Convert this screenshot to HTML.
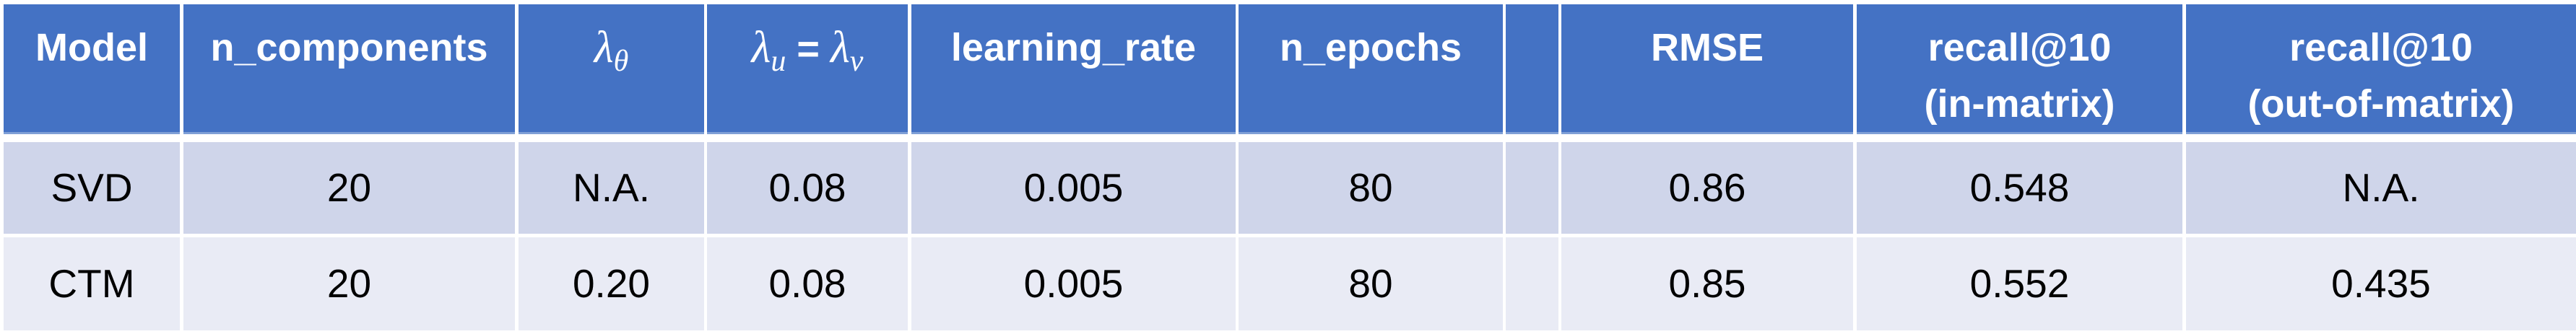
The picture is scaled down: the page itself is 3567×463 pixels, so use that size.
<!DOCTYPE html>
<html><head><meta charset="utf-8">
<style>
html,body{margin:0;padding:0;background:#fff;}
body{width:3567px;height:463px;position:relative;overflow:hidden;font-family:"Liberation Sans",sans-serif;}
.c{position:absolute;box-sizing:border-box;text-align:center;}
.h{background:#4472C4;color:#fff;font-weight:bold;font-size:54px;line-height:78px;padding-top:21px;border-bottom:3px solid #7F9FD6;}
.r1{background:#CFD5EA;color:#000;font-size:55px;}
.r2{background:#E9EBF5;color:#000;font-size:55px;}
.m{font-family:"Liberation Serif",serif;font-style:italic;font-weight:normal;font-size:62px;}
.m sub{font-size:42px;vertical-align:-12px;}
</style></head><body>
<div id="t"></div>
<script>
const lefts=[5,254,718,979,1262,1715,2085,2162,2571,3027];
const rights=[249,713,975,1257,1711,2081,2158,2566,3022,3567];
const headers=["Model","n_components","<span class='m'>λ<sub>θ</sub></span>","<span class='m'>λ<sub>u</sub></span> = <span class='m'>λ<sub>v</sub></span>","learning_rate","n_epochs","","RMSE","recall@10<br>(in-matrix)","recall@10<br>(out-of-matrix)"];
const headerNames=["model","n-components","lambda-theta","lambda-u-v","learning-rate","n-epochs","spacer","rmse","recall-in-matrix","recall-out-of-matrix"];
const svdRow=["SVD","20","N.A.","0.08","0.005","80","","0.86","0.548","N.A."];
const ctmRow=["CTM","20","0.20","0.08","0.005","80","","0.85","0.552","0.435"];
const t=document.getElementById('t');
function cell(cls,i,top,h,html,name){
  const d=document.createElement('div');
  d.className='c '+cls;
  d.style.left=lefts[i]+'px';d.style.width=(rights[i]-lefts[i])+'px';
  d.style.top=top+'px';d.style.height=h+'px';
  if(cls!=='h'){d.style.lineHeight=h+'px';}
  d.innerHTML=html;
  
  
  t.appendChild(d);
}
for(let i=0;i<lefts.length;i++){
  cell('h',i,6,180,headers[i],'header-'+headerNames[i]);
  cell('r1',i,197,127,svdRow[i],'svd-'+headerNames[i]);
  cell('r2',i,329,129,ctmRow[i],'ctm-'+headerNames[i]);
}
</script>
</body></html>
